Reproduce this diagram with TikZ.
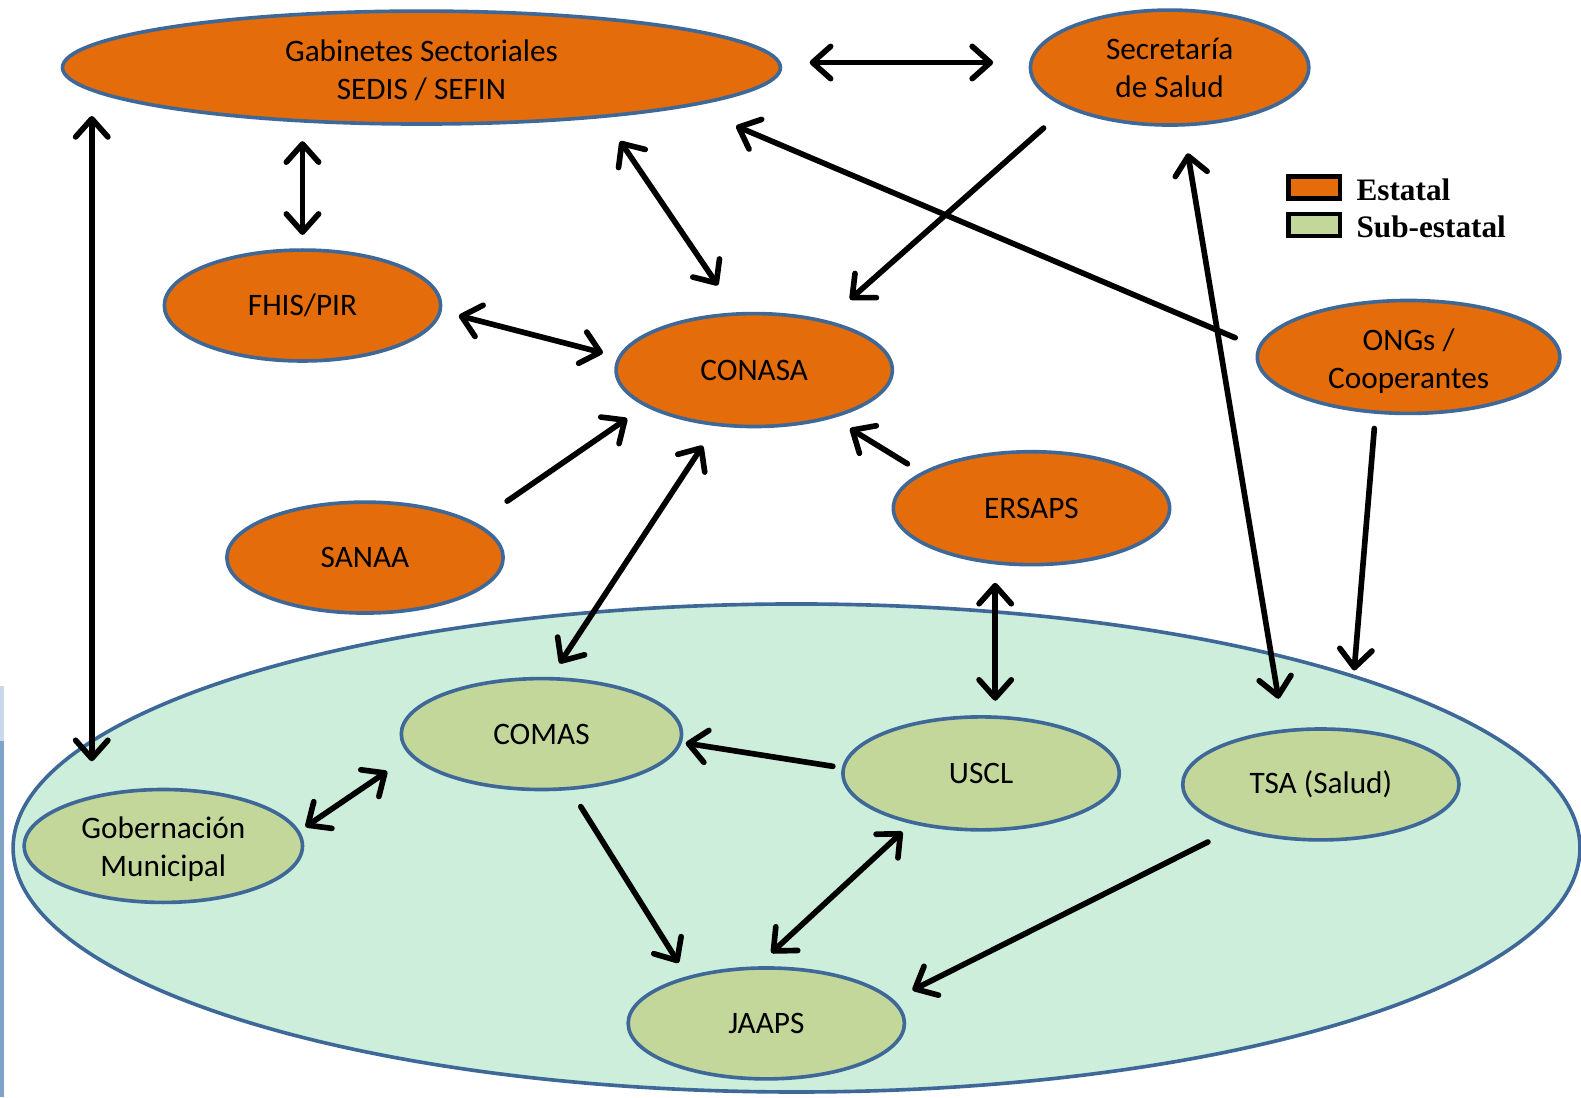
\documentclass[tikz,border=0pt]{standalone}
\usepackage{fontspec}
\setmainfont{Carlito}
\newfontfamily\legfont{Liberation Serif}
\usetikzlibrary{shapes.geometric,arrows.meta}
\definecolor{orangeF}{HTML}{E46C0A}
\definecolor{greenF}{HTML}{C4D79B}
\definecolor{mintF}{HTML}{CCEEDB}
\definecolor{edgeB}{HTML}{3E6898}
\definecolor{stripA}{HTML}{7FA3C6}
\definecolor{stripB}{HTML}{C9D9EA}
\newcommand{\lowertxt}[2]{\raisebox{-#1}[\height][\depth]{\begin{tabular}{@{}c@{}}#2\end{tabular}}}
\tikzset{
  ell/.style={ellipse, draw=edgeB, line width=1.8pt, inner sep=0pt, align=center,
    font=\fontsize{15.5}{19}\selectfont},
  est/.style={ell, fill=orangeF},
  sub/.style={ell, fill=greenF},
  conn/.style={line width=2.8pt, line cap=round, -{Straight Barb[length=9pt,width=16pt,line cap=round,line join=round]}},
  bconn/.style={line width=2.8pt, line cap=round, {Straight Barb[length=9pt,width=16pt,line cap=round,line join=round]}-{Straight Barb[length=9pt,width=16pt,line cap=round,line join=round]}},
  legbox/.style={draw=black, line width=2.2pt, minimum width=25.5pt, minimum height=11pt, inner sep=0pt},
  legtext/.style={anchor=west, inner sep=0pt, font=\legfont\bfseries\fontsize{15.5}{18}\selectfont}
}
\begin{document}
\begin{tikzpicture}[x=0.5pt,y=-0.5pt]
\useasboundingbox (0,0) rectangle (1568,1088);
% left strip artifact
\fill[stripB] (0,680) rectangle (4,735);
\fill[stripA] (0,735) rectangle (4,1088);
% big sub-state ellipse
\node[ellipse, draw=edgeB, line width=1.8pt, fill=mintF, inner sep=0pt,
  minimum width=777pt, minimum height=242pt] (region) at (790,841) {};
% state nodes
\node[est, minimum width=356pt, minimum height=56pt] (gab) at (418,67) {\lowertxt{2.5pt}{Gabinetes Sectoriales\\[0pt]SEDIS / SEFIN}};
\node[est, minimum width=138pt, minimum height=57pt] (sec) at (1160,67) {\lowertxt{1.5pt}{Secretaría\\[0pt]de Salud}};
\node[est, minimum width=137pt, minimum height=55pt] (fhis) at (300,303) {FHIS/PIR};
\node[est, minimum width=137pt, minimum height=56pt] (conasa) at (748,367) {CONASA};
\node[est, minimum width=150pt, minimum height=56pt] (ongs) at (1397,354) {\lowertxt{2.5pt}{ONGs /\\[0pt]Cooperantes}};
\node[est, minimum width=137pt, minimum height=56pt] (ersaps) at (1023,504) {ERSAPS};
\node[est, minimum width=137pt, minimum height=55pt] (sanaa) at (362,553) {SANAA};
% sub-state nodes
\node[sub, minimum width=139pt, minimum height=55pt] (comas) at (537,728) {COMAS};
\node[sub, minimum width=137pt, minimum height=56pt] (uscl) at (973,767) {USCL};
\node[sub, minimum width=137pt, minimum height=55pt] (tsa) at (1310,778) {TSA (Salud)};
\node[sub, minimum width=138pt, minimum height=56pt] (gob) at (162,839) {\lowertxt{2pt}{Gobernación\\[0pt]Municipal}};
\node[sub, minimum width=137pt, minimum height=55pt] (jaaps) at (760,1015) {JAAPS};
% legend
\node[legbox, fill=orangeF] (legE) at (1303.5,186) {};
\node[legbox, fill=greenF] (legS) at (1303.5,223) {};
\node[legtext] (legEt) at (1345,188) {Estatal};
\node[legtext] (legSt) at (1345,225) {Sub-estatal};
% connector end points
\coordinate (gabE) at (803,62);   \coordinate (secW) at (985,62);
\coordinate (gabSW) at (91,115);  \coordinate (gobN) at (91,755);
\coordinate (gabS) at (300,140);  \coordinate (fhisN) at (300,233);
\coordinate (gabSE) at (615,140); \coordinate (conasaN) at (712,283);
\coordinate (ongsW) at (1225,335); \coordinate (gabSE2) at (730,125);
\coordinate (secSW) at (1035,127); \coordinate (conasaNE) at (843,297);
\coordinate (secS) at (1178,152); \coordinate (tsaN) at (1268,693);
\coordinate (fhisE) at (455,313); \coordinate (conasaW) at (598,350);
\coordinate (sanaaNE) at (503,497); \coordinate (conasaSW) at (622,415);
\coordinate (ersapsNW) at (900,460); \coordinate (conasaSE) at (843,425);
\coordinate (conasaS) at (697,442); \coordinate (comasN) at (555,658);
\coordinate (ersapsS) at (987,578); \coordinate (usclN) at (987,695);
\coordinate (ongsS) at (1363,425); \coordinate (regionNE) at (1343,665);
\coordinate (usclW) at (826,760); \coordinate (comasE) at (680,737);
\coordinate (comasSW) at (384,765); \coordinate (gobE) at (303,820);
\coordinate (comasS) at (576,800); \coordinate (jaapsNW) at (673,955);
\coordinate (usclSW) at (895,825); \coordinate (jaapsN) at (765,945);
\coordinate (tsaSW) at (1198,835); \coordinate (jaapsNE) at (905,982);
% connectors
\draw[bconn] (gabE) -- (secW);
\draw[bconn] (gabSW) -- (gobN);
\draw[bconn] (gabS) -- (fhisN);
\draw[bconn] (gabSE) -- (conasaN);
\draw[conn] (ongsW) -- (gabSE2);
\draw[conn] (secSW) -- (conasaNE);
\draw[bconn] (secS) -- (tsaN);
\draw[bconn] (fhisE) -- (conasaW);
\draw[conn] (sanaaNE) -- (conasaSW);
\draw[conn] (ersapsNW) -- (conasaSE);
\draw[bconn] (conasaS) -- (comasN);
\draw[bconn] (ersapsS) -- (usclN);
\draw[conn] (ongsS) -- (regionNE);
\draw[conn] (usclW) -- (comasE);
\draw[bconn] (comasSW) -- (gobE);
\draw[conn] (comasS) -- (jaapsNW);
\draw[bconn] (usclSW) -- (jaapsN);
\draw[conn] (tsaSW) -- (jaapsNE);
\end{tikzpicture}
\end{document}
